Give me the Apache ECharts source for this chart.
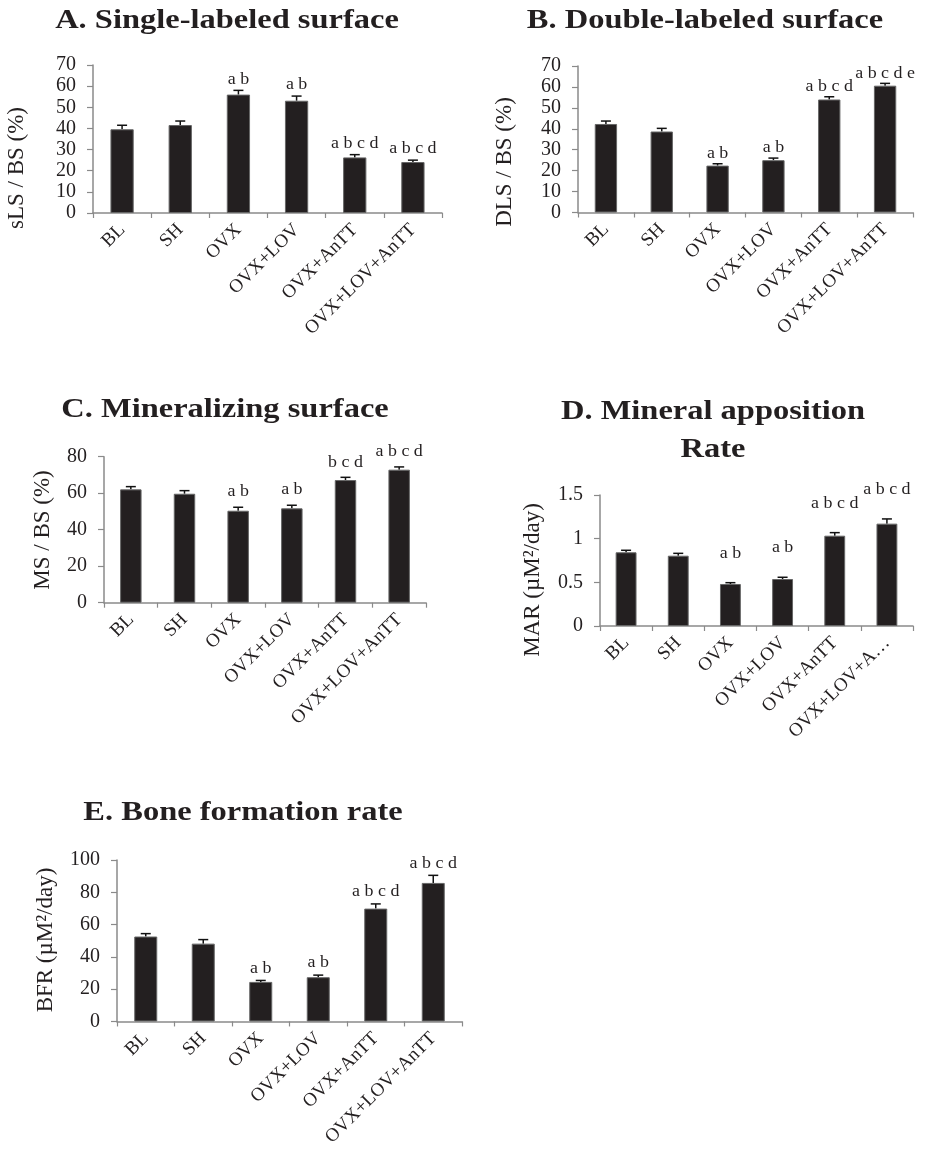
<!DOCTYPE html>
<html>
<head>
<meta charset="utf-8">
<script src="https://cdn.jsdelivr.net/npm/echarts@6/dist/echarts.min.js"></script>
<style>
html,body{margin:0;padding:0;background:#fff;}
#chart{width:926px;height:1149px;}
</style>
</head>
<body>
<div id="chart"></div>
<script>
// ---------- data ----------
const categories = ['BL', 'SH', 'OVX', 'OVX+LOV', 'OVX+AnTT', 'OVX+LOV+AnTT'];
const categoriesD = ['BL', 'SH', 'OVX', 'OVX+LOV', 'OVX+AnTT', 'OVX+LOV+A…'];

const sLS    = [39.6, 41.6, 56.0, 53.1, 26.3, 24.1];
const sLSErr = [1.9, 1.9, 2.0, 2.2, 1.3, 0.9];
const sLSSig = ['', '', 'a b', 'a b', 'a b c d', 'a b c d'];

const dLS    = [42.3, 38.7, 22.4, 25.0, 54.0, 60.6];
const dLSErr = [1.4, 1.5, 0.9, 1.0, 1.3, 1.1];
const dLSSig = ['', '', 'a b', 'a b', 'a b c d', 'a b c d e'];

const mS     = [62.1, 59.7, 50.4, 51.7, 67.2, 72.9];
const mSErr  = [1.5, 1.7, 1.9, 1.7, 1.5, 1.5];
const mSSig  = ['', '', 'a b', 'a b', 'b c d', 'a b c d'];

const mAR    = [0.844, 0.805, 0.481, 0.538, 1.034, 1.172];
const mARErr = [0.023, 0.027, 0.015, 0.020, 0.035, 0.054];
const mARSig = ['', '', 'a b', 'a b', 'a b c d', 'a b c d'];

const bFR    = [52.6, 48.2, 24.5, 27.4, 69.9, 85.8];
const bFRErr = [1.8, 2.5, 0.9, 1.3, 2.9, 4.7];
const bFRSig = ['', '', 'a b', 'a b', 'a b c d', 'a b c d'];

const titles = ['A. Single-labeled surface', 'B. Double-labeled surface', 'C. Mineralizing surface',
                'D. Mineral apposition\nRate', 'E. Bone formation rate'];
const yNames = ['sLS / BS (%)', 'DLS / BS (%)', 'MS / BS (%)', 'MAR (\u00b5M\u00b2/day)', 'BFR (\u00b5M\u00b2/day)'];
const yMax = [70, 70, 80, 1.5, 100];
const yInterval = [10, 10, 20, 0.5, 20];

// ---------- layout ----------
const FONT = '"Liberation Serif","Times New Roman",serif';
const TXT = '#231f20';
const AXIS = '#8a8a8a';

const panels = [
  {values: sLS, errs: sLSErr, sig: sLSSig, cats: categories,
   grid: {left: 93, top: 65, width: 349, height: 148}, titlePos: [227, 21], namePos: [17, 168], sigOff: 11},
  {values: dLS, errs: dLSErr, sig: dLSSig, cats: categories,
   grid: {left: 578, top: 66, width: 335, height: 146.5}, titlePos: [705, 21], namePos: [505, 162], sigOff: 10},
  {values: mS, errs: mSErr, sig: mSSig, cats: categories,
   grid: {left: 104, top: 456.7, width: 322, height: 146}, titlePos: [225, 410], namePos: [43, 530], sigOff: 15},
  {values: mAR, errs: mARErr, sig: mARSig, cats: categoriesD,
   grid: {left: 600, top: 495, width: 313, height: 131}, titlePos: [713, 431], namePos: [533, 580], sigOff: 29},
  {values: bFR, errs: bFRErr, sig: bFRSig, cats: categories,
   grid: {left: 117, top: 860, width: 345, height: 161.7}, titlePos: [243, 813], namePos: [46, 940], sigOff: 12}
];

const grids = [], xAxes = [], yAxes = [], series = [], graphics = [];

panels.forEach((p, k) => {
  grids.push(Object.assign({containLabel: false}, p.grid));
  xAxes.push({
    type: 'category', gridIndex: k, data: p.cats, boundaryGap: true,
    axisLine: {lineStyle: {color: AXIS, width: 1.5}},
    axisTick: {show: true, length: 5, lineStyle: {color: AXIS, width: 1.2}},
    axisLabel: {rotate: 45, interval: 0, margin: 14, color: TXT, fontFamily: FONT, fontSize: 19,
                hideOverlap: false}
  });
  yAxes.push({
    type: 'value', gridIndex: k, min: 0, max: yMax[k], interval: yInterval[k],
    splitLine: {show: false},
    axisLine: {show: true, lineStyle: {color: AXIS, width: 1.5}},
    axisTick: {show: true, length: 6, lineStyle: {color: AXIS, width: 1.2}},
    axisLabel: {margin: 17, color: TXT, fontFamily: FONT, fontSize: 20,
                showMinLabel: true, showMaxLabel: true, hideOverlap: false}
  });
  series.push({
    type: 'bar', xAxisIndex: k, yAxisIndex: k, data: p.values, barWidth: '40%',
    itemStyle: {color: '#231f20', borderColor: '#666', borderWidth: 1},
    silent: true, animation: false
  });
  series.push({
    type: 'custom', xAxisIndex: k, yAxisIndex: k, clip: false, animation: false, silent: true,
    data: p.values.map((v, i) => [i, v, p.errs[i]]),
    renderItem: function (params, api) {
      const i = api.value(0), v = api.value(1), e = api.value(2);
      const p0 = api.coord([i, v]);
      const p1 = api.coord([i, v + e]);
      const children = [
        {type: 'line', shape: {x1: p0[0], y1: p0[1], x2: p1[0], y2: p1[1]}, style: {stroke: '#111', lineWidth: 1.5}},
        {type: 'line', shape: {x1: p1[0] - 5, y1: p1[1], x2: p1[0] + 5, y2: p1[1]}, style: {stroke: '#111', lineWidth: 1.5}}
      ];
      const s = p.sig[params.dataIndex];
      if (s) {
        children.push({
          type: 'text', x: p1[0], y: p1[1] - p.sigOff, scaleX: 1.12,
          style: {text: s, x: 0, y: 0, align: 'center', verticalAlign: 'middle',
                  textAlign: 'center', textVerticalAlign: 'middle',
                  fontFamily: FONT, fontSize: 16, fill: TXT}
        });
      }
      return {type: 'group', children: children};
    }
  });
  graphics.push({
    type: 'text', x: p.titlePos[0], y: p.titlePos[1], scaleX: 1.16,
    style: {text: titles[k], x: 0, y: 0, align: 'center', verticalAlign: 'middle',
            textAlign: 'center', textVerticalAlign: 'middle', lineHeight: 38,
            fontFamily: FONT, fontWeight: 'bold', fontSize: 28, fill: TXT}
  });
  graphics.push({
    type: 'text', x: p.namePos[0], y: p.namePos[1], rotation: Math.PI / 2,
    style: {text: yNames[k], x: 0, y: 0, align: 'center', verticalAlign: 'middle',
            textAlign: 'center', textVerticalAlign: 'middle',
            fontFamily: FONT, fontSize: 23, fill: TXT}
  });
});

const chart = echarts.init(document.getElementById('chart'), null, {renderer: 'canvas'});
chart.setOption({
  backgroundColor: '#ffffff',
  animation: false,
  grid: grids, xAxis: xAxes, yAxis: yAxes, series: series, graphic: graphics
});
</script>
</body>
</html>
